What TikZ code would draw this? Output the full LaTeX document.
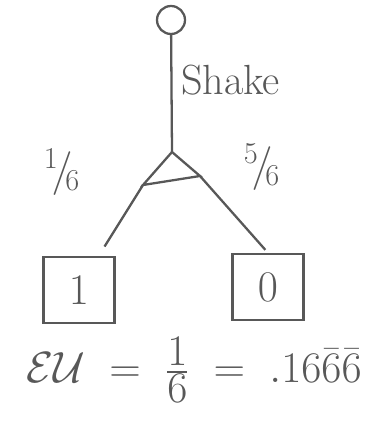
\documentclass[tikz,border=0pt]{standalone}
\usepackage{amsmath}
\usepackage{xcolor}
\usetikzlibrary{arrows.meta,positioning,calc}
\definecolor{pencil}{RGB}{88,88,88}

\begin{document}
\begin{tikzpicture}[x=0.02cm,y=-0.02cm,>=Latex,line width=1.3pt,draw=pencil,text=pencil,
  decision/.style={draw,circle,minimum size=0.56cm,inner sep=0pt},
  payoff/.style={draw,rectangle,minimum width=1.42cm,minimum height=1.32cm,font=\fontsize{28}{32}\selectfont},
  branchlabel/.style={font=\fontsize{26}{30}\selectfont}]
\useasboundingbox (0,0) rectangle (388,422);
% decision node and the act
\node[decision] (dec) at (171,20) {};
\coordinate (apex) at (172,152);
\coordinate (tl) at (143,185);
\coordinate (tr) at (200,176);
\draw (dec) -- (apex);
\node[font=\fontsize{24}{28}\selectfont,anchor=west] (act) at (174,80) {Shake};
% chance node
\draw (apex) -- (tl) -- (tr) -- cycle;
\node[payoff] (one) at (79,290) {$1$};
\node[payoff] (zero) at (268,287) {$0$};
\draw[shorten >=0.22cm] (tl) -- (one.60);
\draw[shorten >=0.08cm] (tr) -- (zero.north);
\node[branchlabel] (pone) at (62,172) {$^{1}\!/\!_{6}$};
\node[branchlabel] (pfive) at (262,167) {$^{5}\!/\!_{6}$};
% expected utility
\node[font=\fontsize{33}{38}\selectfont] (eu) at (194,370) {$\mathcal{EU}\;=\;\frac{1}{6}\;=\;.16\bar{6}\bar{6}$};
\end{tikzpicture}
\end{document}
